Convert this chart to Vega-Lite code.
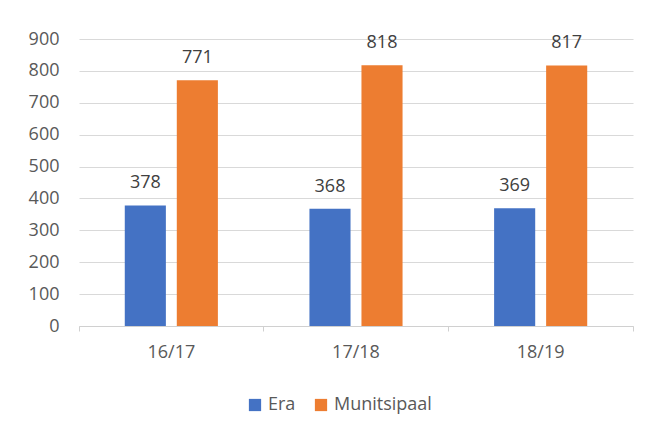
{
  "$schema": "https://vega.github.io/schema/vega-lite/v6.json",
  "width": 554,
  "height": 287,
  "autosize": "none",
  "padding": {"left": 79, "top": 39, "right": 17, "bottom": 108},
  "background": "white",
  "data": {
    "values": [
      {"year": "16/17", "series": "Era", "value": 378},
      {"year": "16/17", "series": "Munitsipaal", "value": 771},
      {"year": "17/18", "series": "Era", "value": 368},
      {"year": "17/18", "series": "Munitsipaal", "value": 818},
      {"year": "18/19", "series": "Era", "value": 369},
      {"year": "18/19", "series": "Munitsipaal", "value": 817}
    ]
  },
  "encoding": {
    "x": {
      "field": "year",
      "type": "nominal",
      "sort": null,
      "title": null,
      "scale": {"paddingInner": 0, "paddingOuter": 0},
      "axis": {
        "bandPosition": 1,
        "tickExtra": true,
        "labelAngle": 0,
        "tickSize": 5,
        "tickColor": "#D0D0D0",
        "domainColor": "#D0D0D0",
        "labelPadding": 12,
        "grid": false
      }
    },
    "xOffset": {
      "field": "series",
      "type": "nominal",
      "sort": ["Era", "Munitsipaal"],
      "scale": {"paddingInner": 0.21, "paddingOuter": 0.88}
    },
    "y": {
      "field": "value",
      "type": "quantitative",
      "title": null,
      "scale": {"domain": [0, 900], "nice": false},
      "axis": {
        "values": [0, 100, 200, 300, 400, 500, 600, 700, 800, 900],
        "domain": false,
        "ticks": false,
        "labelPadding": 20,
        "gridColor": "#D9D9D9",
        "gridWidth": 1
      }
    }
  },
  "layer": [
    {
      "mark": {"type": "bar"},
      "encoding": {
        "color": {
          "field": "series",
          "type": "nominal",
          "sort": ["Era", "Munitsipaal"],
          "scale": {"domain": ["Era", "Munitsipaal"], "range": ["#4472C4", "#ED7D31"]},
          "legend": {
            "title": null,
            "orient": "none",
            "legendX": 167,
            "legendY": 357,
            "direction": "horizontal",
            "symbolType": "square",
            "symbolSize": 150,
            "symbolStrokeWidth": 0,
            "labelOffset": 4,
            "columnPadding": 16
          }
        }
      }
    },
    {
      "mark": {"type": "text", "baseline": "alphabetic", "dy": -17, "fontSize": 18, "color": "#404040", "font": "Open Sans"},
      "encoding": {
        "text": {"field": "value", "type": "quantitative"}
      }
    }
  ],
  "config": {
    "view": {"stroke": null},
    "axis": {"labelFont": "Open Sans", "labelFontSize": 18, "labelColor": "#595959"},
    "legend": {"labelFont": "Open Sans", "labelFontSize": 18, "labelColor": "#595959"}
  }
}
